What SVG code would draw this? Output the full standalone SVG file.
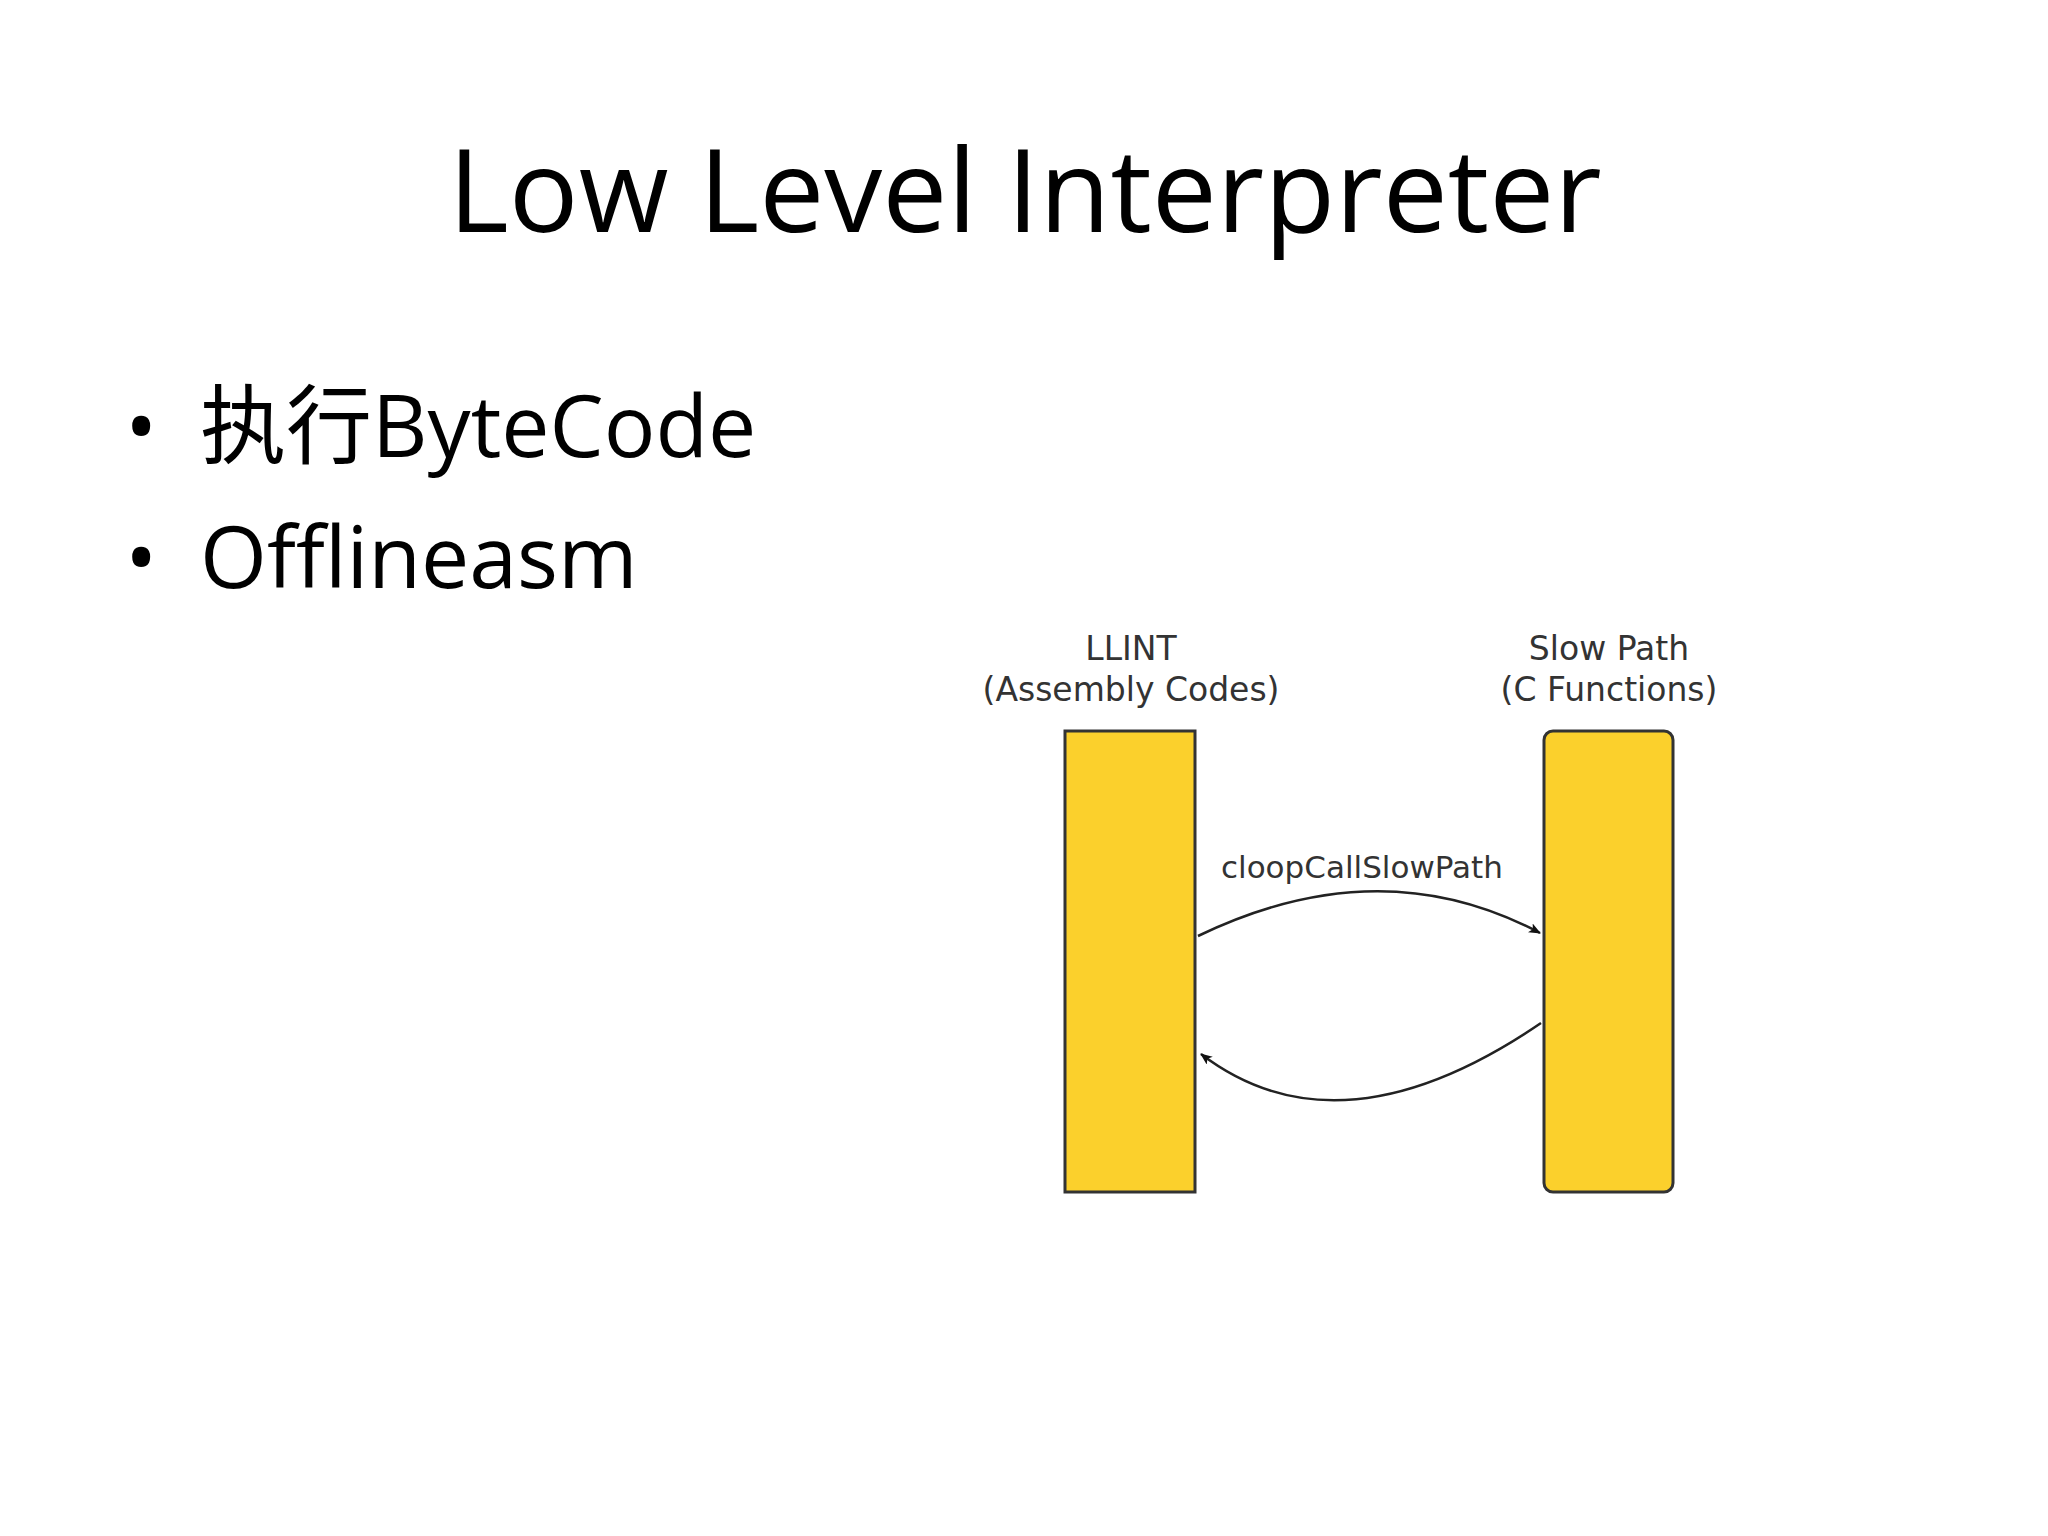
<svg xmlns="http://www.w3.org/2000/svg" width="2048" height="1536" viewBox="0 0 2048 1536">
<style>
.t{font-family:"Open Sans","Noto Sans","Noto Sans CJK SC",sans-serif;fill:#000}
.s{font-family:"DejaVu Sans","Noto Sans",sans-serif;fill:#333;font-size:33px;text-anchor:middle}
.bar{fill:#FBD02C;stroke:#333;stroke-width:3}
.c{fill:none;stroke:#222;stroke-width:2.5;marker-end:url(#a)}
</style>
<defs><marker id="a" markerWidth="12" markerHeight="10" refX="11" refY="5" orient="auto" markerUnits="userSpaceOnUse" viewBox="0 0 12 10"><path d="M0,0 L12,5 L0,10 L3,5 Z" fill="#111"/></marker></defs>
<rect width="2048" height="1536" fill="#fff"/>
<text class="t" x="1025" y="232" font-size="116" text-anchor="middle">Low Level Interpreter</text>
<g id="bullets">
<text class="t" x="125" y="457" font-size="86">•</text>
<text class="t" x="200" y="457" font-size="86">执行ByteCode</text>
<text class="t" x="125" y="588" font-size="86">•</text>
<text class="t" x="200" y="588" font-size="86">Offlineasm</text>
</g>
<g id="llint">
<text class="s" x="1131" y="660">LLINT</text>
<text class="s" x="1131" y="701">(Assembly Codes)</text>
<rect class="bar" x="1065" y="731" width="130" height="461"/>
</g>
<text class="s" x="1221" y="878" style="text-anchor:start;font-size:31px">cloopCallSlowPath</text>
<g id="slowpath">
<text class="s" x="1609" y="660">Slow Path</text>
<text class="s" x="1609" y="701">(C Functions)</text>
<rect class="bar" x="1544" y="731" width="129" height="461" rx="9"/>
</g>
<g id="connectors">
<path class="c" d="M1198,936 Q1380,848 1540,933"/>
<path class="c" d="M1541,1023 Q1340,1160 1201,1054"/>
</g>
</svg>
